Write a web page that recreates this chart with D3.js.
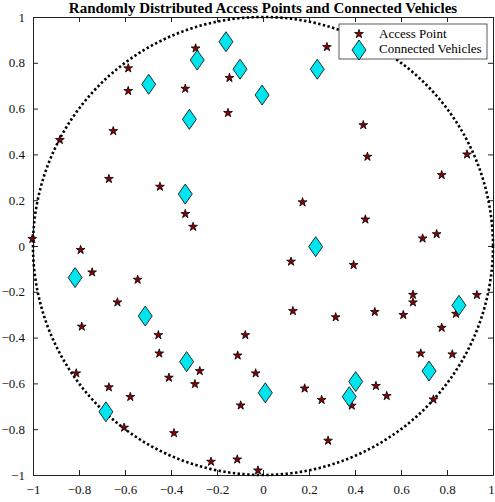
<!DOCTYPE html>
<html>
<head>
<meta charset="utf-8">
<script src="https://cdn.jsdelivr.net/npm/d3@7"></script>
<style>
  body { margin: 0; background: #fff; }
  text { font-family: "Liberation Serif", "Times New Roman", serif; }
</style>
</head>
<body>
<svg id="chart" width="495" height="502"></svg>
<script>
// access points (stars)
var apX = [-0.293, -0.586, -0.586, -0.338, -0.146, -0.152, -0.651, -0.883, -0.670, -0.448, -0.338, -0.304, -1.003,
  0.278, 0.436, 0.454, 0.887, 0.777, 0.172, 0.445, 0.694, 0.755,
  -0.793, -0.743, -0.545, -0.633, -0.788, -0.455, -0.451, -0.275, -0.409, -0.296, -0.812, -0.670, -0.577, -0.604,
  -0.387, -0.226, -0.112, -0.022, -0.077, -0.110, -0.032, -0.097,
  0.122, 0.394, 0.130, 0.316, 0.486, 0.610, 0.652, 0.652, 0.930, 0.839, 0.777, 0.686, 0.823,
  0.181, 0.255, 0.386, 0.491, 0.538, 0.741, 0.283];
var apY = [0.863, 0.776, 0.677, 0.687, 0.734, 0.581, 0.502, 0.463, 0.293, 0.259, 0.140, 0.084, 0.031,
  0.869, 0.528, 0.390, 0.400, 0.310, 0.191, 0.116, 0.033, 0.052,
  -0.017, -0.115, -0.147, -0.246, -0.352, -0.389, -0.469, -0.546, -0.575, -0.603, -0.556, -0.617, -0.659, -0.793,
  -0.817, -0.942, -0.932, -0.980, -0.389, -0.478, -0.556, -0.696,
  -0.068, -0.083, -0.284, -0.311, -0.288, -0.301, -0.213, -0.246, -0.214, -0.296, -0.357, -0.469, -0.473,
  -0.622, -0.672, -0.697, -0.611, -0.655, -0.670, -0.850];

// connected vehicles (diamonds)
var cvX = [-0.161, -0.286, -0.100, -0.497, -0.320, -0.004, -0.338, 0.236, 0.229,
  -0.817, -0.512, -0.332, -0.683, 0.010, 0.852, 0.722, 0.403, 0.375];
var cvY = [0.892, 0.812, 0.772, 0.706, 0.553, 0.659, 0.227, 0.772, -0.003,
  -0.138, -0.306, -0.505, -0.724, -0.641, -0.259, -0.546, -0.592, -0.658];

var ticks = [-1, -0.8, -0.6, -0.4, -0.2, 0, 0.2, 0.4, 0.6, 0.8, 1];

var svg = d3.select("#chart");
var margin = {left: 33, right: 2, top: 17, bottom: 27};
var W = 495 - margin.left - margin.right,
    H = 502 - margin.top - margin.bottom;

var x = d3.scaleLinear().domain([-1, 1]).range([0, W]);
var y = d3.scaleLinear().domain([-1, 1]).range([H, 0]);

var g = svg.append("g").attr("transform", "translate(" + margin.left + "," + margin.top + ")");

svg.append("text")
  .attr("x", margin.left + W / 2)
  .attr("y", 13)
  .attr("text-anchor", "middle")
  .attr("font-size", 15)
  .attr("font-weight", "bold")
  .text("Randomly Distributed Access Points and Connected Vehicles");

function fmt(d) { return d3.format("")(+d.toFixed(1)); }

// axes, ticks inward, mirrored on top/right
var xb = g.append("g").attr("transform", "translate(0," + H + ")")
  .call(d3.axisBottom(x).tickValues(ticks).tickSize(-5).tickPadding(10).tickFormat(fmt));
var yl = g.append("g")
  .call(d3.axisLeft(y).tickValues(ticks).tickSize(-5).tickPadding(8).tickFormat(fmt));
var xt = g.append("g")
  .call(d3.axisTop(x).tickValues(ticks).tickSize(-5).tickFormat(""));
var yr = g.append("g").attr("transform", "translate(" + W + ",0)")
  .call(d3.axisRight(y).tickValues(ticks).tickSize(-5).tickFormat(""));

[xb, yl, xt, yr].forEach(function(a) {
  a.selectAll("path").attr("stroke", "#222").attr("stroke-width", 1);
  a.selectAll("line").attr("stroke", "#222");
  a.selectAll("text").attr("font-size", 13).attr("fill", "#111")
    .style("font-family", "'Liberation Serif', serif");
});
// last x label sits at the window edge; nudge it in
xb.selectAll(".tick text").filter(function(d) { return d === 1; }).attr("dx", -2);

// unit circle, dotted
var circ = d3.range(0, 361, 1).map(function(a) {
  var t = a * Math.PI / 180;
  return [Math.cos(t), Math.sin(t)];
});
g.append("path")
  .datum(circ)
  .attr("d", d3.line().x(function(d) { return x(d[0]); }).y(function(d) { return y(d[1]); }))
  .attr("fill", "none")
  .attr("stroke", "#000")
  .attr("stroke-width", 2.6)
  .attr("stroke-dasharray", "2.4,2.4");

var star = d3.symbol().type(d3.symbolStar).size(24);
var diamond = "M0,-10L7,0L0,10L-7,0Z";

g.selectAll(".ap")
  .data(apX)
  .enter()
  .append("path")
  .attr("class", "ap")
  .attr("d", star)
  .attr("transform", function(d, i) { return "translate(" + x(d) + "," + y(apY[i]) + ")"; })
  .attr("fill", "#8b0000")
  .attr("stroke", "#000")
  .attr("stroke-width", 0.8);

g.selectAll(".cv")
  .data(cvX)
  .enter()
  .append("path")
  .attr("class", "cv")
  .attr("d", diamond)
  .attr("transform", function(d, i) { return "translate(" + x(d) + "," + y(cvY[i]) + ")"; })
  .attr("fill", "#00e5ee")
  .attr("stroke", "#000")
  .attr("stroke-width", 0.8);

// legend
var lg = svg.append("g").attr("transform", "translate(339,24)");
lg.append("rect")
  .attr("width", 148).attr("height", 35)
  .attr("fill", "#fff").attr("stroke", "#333").attr("stroke-width", 0.8);
lg.append("path").attr("d", star).attr("transform", "translate(20,10)")
  .attr("fill", "#8b0000").attr("stroke", "#000").attr("stroke-width", 0.8);
lg.append("path").attr("d", diamond).attr("transform", "translate(20,26)")
  .attr("fill", "#00e5ee").attr("stroke", "#000").attr("stroke-width", 0.8);
lg.append("text").attr("x", 40).attr("y", 14).attr("font-size", 13).text("Access Point");
lg.append("text").attr("x", 40).attr("y", 29).attr("font-size", 13).text("Connected Vehicles");
</script>
</body>
</html>
